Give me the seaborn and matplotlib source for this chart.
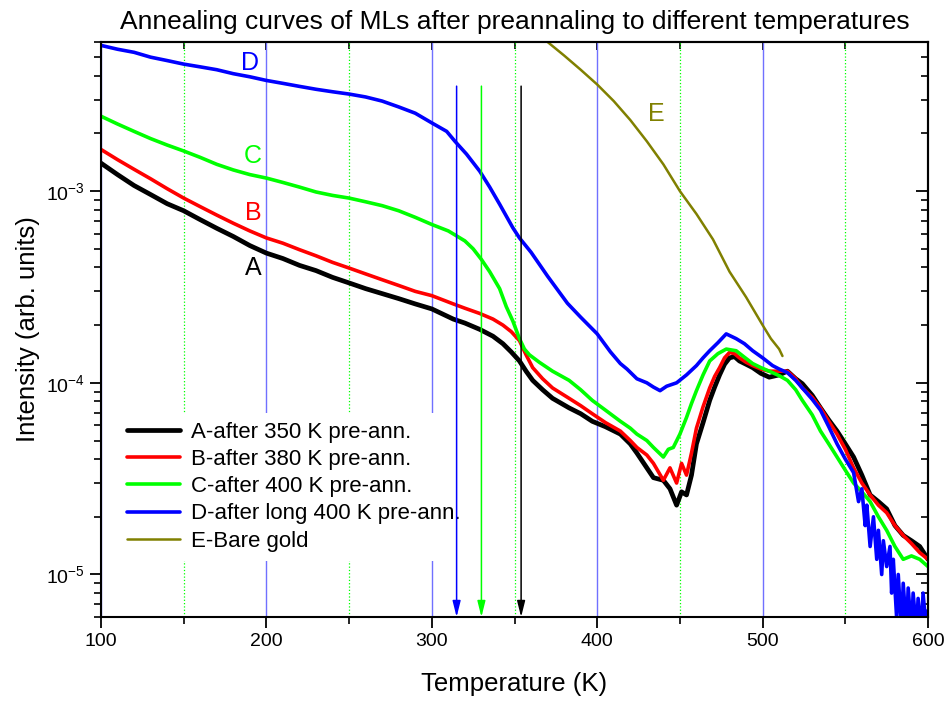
import numpy as np
import pandas as pd
import matplotlib
matplotlib.use('Agg')
import matplotlib.pyplot as plt
import seaborn as sns
from matplotlib.ticker import MultipleLocator, LogLocator, NullFormatter

# ---------------- data ----------------
T_A = [100, 110, 120, 130, 140, 150, 160, 170, 180, 190, 200, 210, 220, 230, 240, 250, 260, 270, 280, 290,
       300, 313, 320, 329, 337, 343, 348, 353, 357, 361, 367, 373, 383, 390, 397, 405, 414, 420, 424, 430,
       434, 440, 444, 448, 451, 454, 457, 460, 464, 468, 471, 474, 477, 480, 483, 486, 490, 494, 499, 504,
       510, 515, 520, 524, 530, 535, 540, 545, 550, 555, 560, 565, 570, 575, 580, 585, 590, 595, 600]
I_A = [1.40e-3, 1.22e-3, 1.07e-3, 9.6e-4, 8.6e-4, 7.9e-4, 7.1e-4, 6.4e-4, 5.8e-4, 5.2e-4, 4.75e-4, 4.45e-4,
       4.1e-4, 3.85e-4, 3.55e-4, 3.32e-4, 3.1e-4, 2.92e-4, 2.75e-4, 2.58e-4, 2.43e-4, 2.15e-4, 2.05e-4, 1.9e-4,
       1.75e-4, 1.6e-4, 1.45e-4, 1.3e-4, 1.15e-4, 1.03e-4, 9.2e-5, 8.3e-5, 7.4e-5, 6.9e-5, 6.3e-5, 5.9e-5,
       5.4e-5, 4.8e-5, 4.3e-5, 3.6e-5, 3.2e-5, 3.1e-5, 2.8e-5, 2.3e-5, 2.7e-5, 2.6e-5, 3.3e-5, 4.8e-5, 6.2e-5,
       8.1e-5, 9.5e-5, 1.1e-4, 1.25e-4, 1.35e-4, 1.37e-4, 1.3e-4, 1.25e-4, 1.2e-4, 1.12e-4, 1.07e-4, 1.1e-4,
       1.15e-4, 1.05e-4, 9.9e-5, 8.6e-5, 7.4e-5, 6.4e-5, 5.6e-5, 4.8e-5, 4.1e-5, 3.3e-5, 2.6e-5, 2.4e-5,
       2.2e-5, 1.8e-5, 1.6e-5, 1.5e-5, 1.4e-5, 1.2e-5]

T_B = T_A
I_B = [1.65e-3, 1.46e-3, 1.30e-3, 1.16e-3, 1.03e-3, 9.2e-4, 8.3e-4, 7.5e-4, 6.8e-4, 6.2e-4, 5.7e-4, 5.35e-4,
       4.95e-4, 4.6e-4, 4.25e-4, 3.97e-4, 3.7e-4, 3.45e-4, 3.22e-4, 3.0e-4, 2.85e-4, 2.58e-4, 2.45e-4, 2.3e-4,
       2.15e-4, 2.0e-4, 1.85e-4, 1.66e-4, 1.4e-4, 1.2e-4, 1.05e-4, 9.4e-5, 8.3e-5, 7.6e-5, 6.9e-5, 6.2e-5,
       5.6e-5, 5.0e-5, 4.6e-5, 4.2e-5, 3.8e-5, 3.1e-5, 3.6e-5, 3.0e-5, 3.8e-5, 3.3e-5, 4.3e-5, 5.8e-5, 7.5e-5,
       9.4e-5, 1.08e-4, 1.2e-4, 1.35e-4, 1.44e-4, 1.42e-4, 1.35e-4, 1.28e-4, 1.23e-4, 1.18e-4, 1.15e-4, 1.15e-4,
       1.15e-4, 1.05e-4, 9.4e-5, 8.4e-5, 7.4e-5, 6.3e-5, 5.4e-5, 4.5e-5, 3.6e-5, 3.0e-5, 2.6e-5, 2.3e-5,
       2.1e-5, 1.8e-5, 1.6e-5, 1.45e-5, 1.3e-5, 1.2e-5]

T_C = [100, 110, 120, 130, 140, 150, 160, 170, 180, 190, 200, 210, 220, 230, 240, 250, 260, 270, 280, 290,
       300, 310, 320, 325, 330, 335, 341, 345, 349, 353, 356, 359, 365, 373, 383, 390, 397, 405, 414, 420,
       424, 430, 434, 440, 443, 446, 450, 454, 457, 460, 464, 468, 473, 478, 484, 489, 494, 499, 504, 510,
       515, 520, 524, 530, 535, 540, 545, 550, 555, 560, 565, 570, 575, 580, 585, 590, 595, 600]
I_C = [2.46e-3, 2.24e-3, 2.05e-3, 1.88e-3, 1.74e-3, 1.62e-3, 1.5e-3, 1.38e-3, 1.29e-3, 1.22e-3, 1.17e-3,
       1.11e-3, 1.05e-3, 9.9e-4, 9.5e-4, 9.2e-4, 8.8e-4, 8.4e-4, 7.9e-4, 7.3e-4, 6.7e-4, 6.2e-4, 5.5e-4,
       5.0e-4, 4.4e-4, 3.8e-4, 3.1e-4, 2.5e-4, 2.1e-4, 1.7e-4, 1.5e-4, 1.4e-4, 1.28e-4, 1.15e-4, 1.03e-4,
       9.2e-5, 8.1e-5, 7.2e-5, 6.3e-5, 5.8e-5, 5.4e-5, 5.0e-5, 4.6e-5, 4.1e-5, 4.5e-5, 4.6e-5, 5.4e-5, 6.6e-5,
       7.8e-5, 9.1e-5, 1.1e-4, 1.3e-4, 1.42e-4, 1.5e-4, 1.47e-4, 1.36e-4, 1.26e-4, 1.2e-4, 1.15e-4, 1.09e-4,
       1.03e-4, 9.2e-5, 8.1e-5, 6.8e-5, 5.6e-5, 4.8e-5, 4.1e-5, 3.5e-5, 3.0e-5, 2.7e-5, 2.4e-5, 2.0e-5,
       1.7e-5, 1.4e-5, 1.2e-5, 1.25e-5, 1.2e-5, 1.1e-5]

T_D = [100, 110, 120, 130, 140, 150, 160, 170, 180, 190, 200, 210, 220, 230, 240, 250, 260, 270, 280, 290,
       300, 309, 314, 321, 329, 335, 341, 349, 353, 360, 370, 382, 390, 400, 408, 414, 418, 424, 430, 434,
       438, 442, 448, 454, 460, 464, 468, 473, 478, 484, 489, 494, 500, 506, 510, 515, 520, 524, 530, 535,
       540, 545, 550, 555, 558, 560, 562, 563, 565, 567, 569, 570, 572, 573, 575, 577, 578, 579, 581, 582,
       584, 585, 587, 588, 590, 591, 593, 594, 596, 597, 599, 600]
I_D = [5.76e-3, 5.5e-3, 5.3e-3, 5.0e-3, 4.8e-3, 4.6e-3, 4.45e-3, 4.3e-3, 4.1e-3, 3.95e-3, 3.78e-3, 3.65e-3,
       3.52e-3, 3.4e-3, 3.3e-3, 3.21e-3, 3.1e-3, 2.95e-3, 2.75e-3, 2.55e-3, 2.27e-3, 2.05e-3, 1.82e-3,
       1.56e-3, 1.27e-3, 1.05e-3, 8.55e-4, 6.44e-4, 5.7e-4, 4.8e-4, 3.6e-4, 2.6e-4, 2.2e-4, 1.8e-4, 1.45e-4,
       1.26e-4, 1.18e-4, 1.05e-4, 1.0e-4, 9.5e-5, 9.1e-5, 9.6e-5, 1.0e-4, 1.1e-4, 1.23e-4, 1.35e-4, 1.47e-4,
       1.62e-4, 1.8e-4, 1.7e-4, 1.6e-4, 1.47e-4, 1.35e-4, 1.23e-4, 1.18e-4, 1.13e-4, 1.03e-4, 9.4e-5, 8.2e-5,
       7.2e-5, 5.9e-5, 4.8e-5, 4.0e-5, 3.4e-5, 2.4e-5, 2.8e-5, 1.8e-5, 2.3e-5, 1.4e-5, 2.0e-5, 1.2e-5, 1.7e-5,
       1.0e-5, 1.5e-5, 1.1e-5, 1.4e-5, 8e-6, 1.2e-5, 6e-6, 1.0e-5, 5e-6, 9e-6, 5e-6, 8.5e-6, 5e-6, 8e-6, 5e-6,
       7.5e-6, 5e-6, 8e-6, 5e-6, 6.5e-6]

T_E = [360, 370, 380, 390, 400, 410, 420, 430, 440, 450, 460, 470, 480, 490, 500, 505, 510, 512]
I_E = [7.2e-3, 6.0e-3, 5.1e-3, 4.3e-3, 3.6e-3, 2.95e-3, 2.35e-3, 1.82e-3, 1.38e-3, 1.0e-3, 7.6e-4, 5.6e-4,
       3.8e-4, 2.8e-4, 2.0e-4, 1.7e-4, 1.5e-4, 1.38e-4]

series_names = ["A-after 350 K pre-ann.", "B-after 380 K pre-ann.", "C-after 400 K pre-ann.",
                "D-after long 400 K pre-ann.", "E-Bare gold"]
series_T = [T_A, T_B, T_C, T_D, T_E]
series_I = [I_A, I_B, I_C, I_D, I_E]
colors = ["#000000", "#ff0000", "#00ff00", "#0000ff", "#808000"]
widths = [3.4, 2.6, 2.6, 2.6, 1.8]

curve_labels = ["A", "B", "C", "D", "E"]
label_T = [192, 192, 192, 190, 436]
label_I = [3.97e-4, 7.68e-4, 1.52e-3, 4.64e-3, 2.52e-3]

arrow_T = [315, 330, 354]
arrow_colors = ["#0000ff", "#00ff00", "#000000"]
arrow_top = 3.53e-3

title = "Annealing curves of MLs after preannaling to different temperatures"

# ---------------- plotting ----------------
sns.set_style("ticks")
plt.rcParams['font.family'] = ['Liberation Sans', 'DejaVu Sans']
plt.rcParams['mathtext.fontset'] = 'custom'
plt.rcParams['mathtext.rm'] = 'Liberation Sans'
plt.rcParams['mathtext.it'] = 'Liberation Sans:italic'
plt.rcParams['mathtext.bf'] = 'Liberation Sans:bold'
for k in ['text.color', 'axes.labelcolor', 'xtick.color', 'ytick.color', 'axes.edgecolor']:
    plt.rcParams[k] = 'black'

fig = plt.figure(figsize=(9.49, 7.01), dpi=100)
ax = fig.add_axes([0.1064, 0.1198, 0.8715, 0.8203])

frames = []
for name, t, i in zip(series_names, series_T, series_I):
    frames.append(pd.DataFrame({"T": t, "I": i, "series": name}))
df = pd.concat(frames, ignore_index=True)

for name, c, w in zip(series_names, colors, widths):
    sub = df[df["series"] == name]
    sns.lineplot(data=sub, x="T", y="I", color=c, linewidth=w, label=name, ax=ax,
                 errorbar=None, estimator=None)

ax.set_yscale('log')
ax.set_xlim(100, 600)
ax.set_ylim(6e-6, 6e-3)

ax.xaxis.set_major_locator(MultipleLocator(100))
ax.xaxis.set_minor_locator(MultipleLocator(50))
ax.yaxis.set_major_locator(LogLocator(base=10))
ax.yaxis.set_minor_locator(LogLocator(base=10, subs=np.arange(2, 10)))
ax.yaxis.set_minor_formatter(NullFormatter())

ax.set_axisbelow(True)
ax.grid(which='major', axis='x', color='#7070ff', linestyle='-', linewidth=1.0)
ax.grid(which='minor', axis='x', color='#00ff00', linestyle=':', linewidth=0.9)
ax.grid(which='both', axis='y', visible=False)

for s in ax.spines.values():
    s.set_linewidth(1.5)
    s.set_color('black')

ax.tick_params(which='major', direction='out', length=8, width=1.3, labelsize=14, colors='black',
               top=False, right=False)
ax.tick_params(which='minor', direction='out', length=5, width=1.2, top=False, right=False)

secx = ax.secondary_xaxis('top')
secx.xaxis.set_major_locator(MultipleLocator(100))
secx.xaxis.set_minor_locator(MultipleLocator(50))
secx.tick_params(which='major', direction='in', length=6, width=1.3, labeltop=False)
secx.tick_params(which='minor', direction='in', length=5, width=1.2)
secx.spines['top'].set_linewidth(1.5)

secy = ax.secondary_yaxis('right')
secy.yaxis.set_major_locator(LogLocator(base=10))
secy.yaxis.set_minor_locator(LogLocator(base=10, subs=np.arange(2, 10)))
secy.yaxis.set_minor_formatter(NullFormatter())
secy.tick_params(which='major', direction='in', length=9, width=1.3, labelright=False)
secy.tick_params(which='minor', direction='in', length=5, width=1.2, labelright=False)
secy.spines['right'].set_linewidth(1.5)

for lab, t, v, c in zip(curve_labels, label_T, label_I, colors):
    ax.text(t, v, lab, color=c, fontsize=18, ha='center', va='center')

ax.set_xlabel("Temperature (K)", fontsize=18.5, labelpad=16)
ax.set_ylabel("Intensity (arb. units)", fontsize=18.5, labelpad=4)
ax.set_title(title, fontsize=19, pad=9)

leg = ax.legend(loc='upper left', bbox_to_anchor=(0.0207, 0.355), borderaxespad=0, fontsize=16,
                frameon=True, framealpha=1, facecolor='white', edgecolor='none', fancybox=False,
                handlelength=2.4, handletextpad=0.5, labelspacing=0.28, borderpad=0.4)

for t, c in zip(arrow_T, arrow_colors):
    ax.annotate('', xy=(t, 6e-6), xytext=(t, arrow_top), zorder=7,
                arrowprops=dict(arrowstyle='-|>,head_length=0.6,head_width=0.15', color=c, lw=1.1,
                                shrinkA=0, shrinkB=0, mutation_scale=16))

fig.savefig("out.png", dpi=100)
